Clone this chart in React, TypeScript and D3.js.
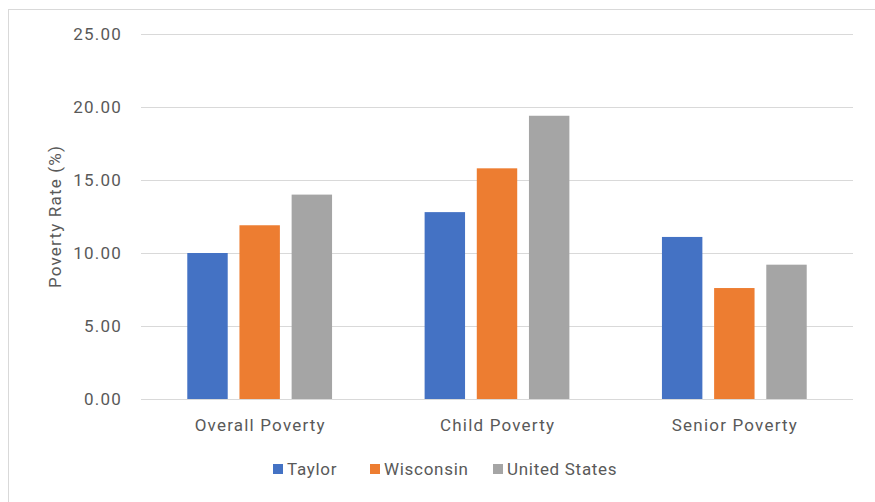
import React, { useEffect, useRef } from "react";
import * as d3 from "d3";

const categories = ["Overall Poverty", "Child Poverty", "Senior Poverty"];
const seriesNames = ["Taylor", "Wisconsin", "United States"];
const taylorValues = [10.0, 12.8, 11.1];
const wisconsinValues = [11.9, 15.8, 7.6];
const usValues = [14.0, 19.4, 9.2];
const yTicks = [0, 5, 10, 15, 20, 25];
const colors = ["#4472C4", "#ED7D31", "#A5A5A5"];

const W = 875;
const H = 502;
const FONT = "Roboto, 'Open Sans', sans-serif";
const FS = 17;
const LS = 1.2;

export default function App() {
  const ref = useRef<SVGSVGElement | null>(null);

  useEffect(() => {
    const svg = d3.select(ref.current);
    svg.selectAll("*").remove();

    const left = 141, right = 853, top = 34, bottom = 399;
    const seriesValues = [taylorValues, wisconsinValues, usValues];

    const y = d3.scaleLinear().domain([0, 25]).range([bottom, top]);
    const x0 = d3.scaleBand<string>().domain(categories).range([left, right]).paddingInner(0.39).paddingOuter(0.195);
    const x1 = d3.scaleBand<string>().domain(seriesNames).range([0, x0.bandwidth()]).paddingInner(0.225);

    svg.append("rect").attr("x", 8.5).attr("y", 9.5).attr("width", W + 10).attr("height", H + 10)
      .attr("fill", "white").attr("stroke", "#D9D9D9").attr("stroke-width", 1);

    // gridlines
    svg.append("g").selectAll("line").data(yTicks).join("line")
      .attr("x1", left).attr("x2", right)
      .attr("y1", (d) => Math.round(y(d)) + 0.5).attr("y2", (d) => Math.round(y(d)) + 0.5)
      .attr("stroke", "#D9D9D9").attr("stroke-width", 1);

    const txt = (sel: any) =>
      sel.attr("font-family", FONT).attr("font-size", FS).attr("letter-spacing", LS).attr("fill", "#595959");

    // y tick labels
    svg.append("g").selectAll("text").data(yTicks).join("text")
      .attr("x", 122).attr("y", (d) => y(d)).attr("dy", "0.35em")
      .attr("text-anchor", "end").call(txt).text((d) => d3.format(".2f")(d));

    // bars
    const g = svg.append("g");
    categories.forEach((c, ci) => {
      seriesNames.forEach((s, si) => {
        const v = seriesValues[si][ci];
        g.append("rect")
          .attr("x", (x0(c) as number) + (x1(s) as number))
          .attr("y", y(v))
          .attr("width", x1.bandwidth())
          .attr("height", y(0) - y(v))
          .attr("fill", colors[si]);
      });
    });

    // category labels
    svg.append("g").selectAll("text").data(categories).join("text")
      .attr("x", (d) => (x0(d) as number) + x0.bandwidth() / 2 + LS / 2).attr("y", 425).attr("dy", "0.35em")
      .attr("text-anchor", "middle").call(txt).text((d) => d);

    // y title
    svg.append("text")
      .attr("transform", `translate(55,${(top + bottom) / 2}) rotate(-90)`)
      .attr("dy", "0.35em").attr("text-anchor", "middle").call(txt)
      .text("Poverty Rate (%)");

    // legend
    const legendX = [273, 370, 493];
    const lg = svg.append("g");
    seriesNames.forEach((s, i) => {
      lg.append("rect").attr("x", legendX[i]).attr("y", 464).attr("width", 10).attr("height", 10).attr("fill", colors[i]);
      lg.append("text").attr("x", legendX[i] + 14).attr("y", 469).attr("dy", "0.35em").call(txt)
        .attr("letter-spacing", 0.7).text(s);
    });
  }, []);

  return (
    <svg ref={ref} width={W} height={H}
      style={{ position: "absolute", left: 0, top: 0, display: "block", background: "white" }} />
  );
}
